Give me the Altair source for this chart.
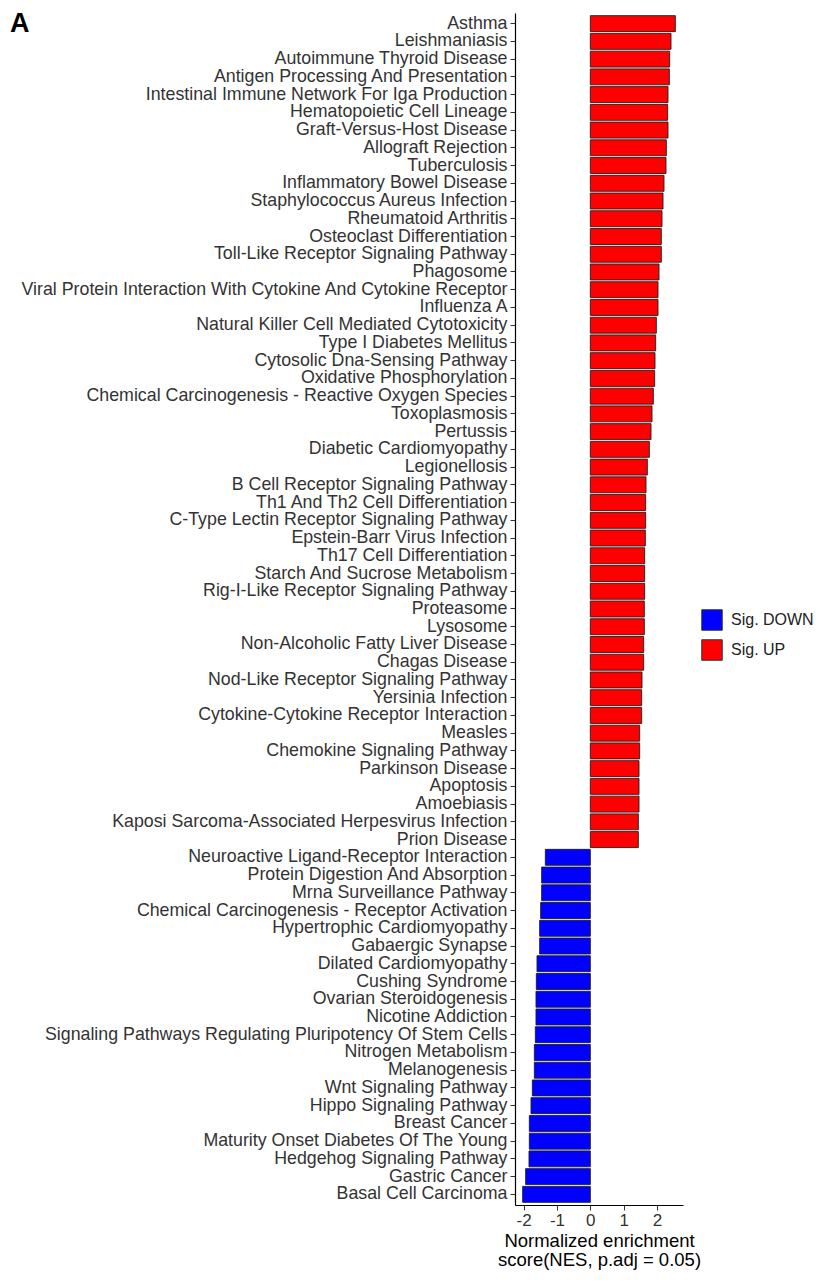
import altair as alt
import pandas as pd

up_terms = [
    "Asthma", "Leishmaniasis", "Autoimmune Thyroid Disease", "Antigen Processing And Presentation",
    "Intestinal Immune Network For Iga Production", "Hematopoietic Cell Lineage", "Graft-Versus-Host Disease",
    "Allograft Rejection", "Tuberculosis", "Inflammatory Bowel Disease", "Staphylococcus Aureus Infection",
    "Rheumatoid Arthritis", "Osteoclast Differentiation", "Toll-Like Receptor Signaling Pathway", "Phagosome",
    "Viral Protein Interaction With Cytokine And Cytokine Receptor", "Influenza A",
    "Natural Killer Cell Mediated Cytotoxicity", "Type I Diabetes Mellitus", "Cytosolic Dna-Sensing Pathway",
    "Oxidative Phosphorylation", "Chemical Carcinogenesis - Reactive Oxygen Species", "Toxoplasmosis",
    "Pertussis", "Diabetic Cardiomyopathy", "Legionellosis", "B Cell Receptor Signaling Pathway",
    "Th1 And Th2 Cell Differentiation", "C-Type Lectin Receptor Signaling Pathway", "Epstein-Barr Virus Infection",
    "Th17 Cell Differentiation", "Starch And Sucrose Metabolism", "Rig-I-Like Receptor Signaling Pathway",
    "Proteasome", "Lysosome", "Non-Alcoholic Fatty Liver Disease", "Chagas Disease",
    "Nod-Like Receptor Signaling Pathway", "Yersinia Infection", "Cytokine-Cytokine Receptor Interaction",
    "Measles", "Chemokine Signaling Pathway", "Parkinson Disease", "Apoptosis", "Amoebiasis",
    "Kaposi Sarcoma-Associated Herpesvirus Infection", "Prion Disease",
]
up_nes = [
    2.55, 2.42, 2.38, 2.37, 2.33, 2.32, 2.33, 2.28, 2.27, 2.21,
    2.18, 2.15, 2.13, 2.13, 2.06, 2.03, 2.03, 1.98, 1.96, 1.94,
    1.93, 1.89, 1.85, 1.82, 1.77, 1.71, 1.67, 1.66, 1.66, 1.65,
    1.63, 1.63, 1.63, 1.62, 1.62, 1.60, 1.60, 1.55, 1.54, 1.54,
    1.48, 1.48, 1.46, 1.46, 1.46, 1.44, 1.44,
]
down_terms = [
    "Neuroactive Ligand-Receptor Interaction", "Protein Digestion And Absorption", "Mrna Surveillance Pathway",
    "Chemical Carcinogenesis - Receptor Activation", "Hypertrophic Cardiomyopathy", "Gabaergic Synapse",
    "Dilated Cardiomyopathy", "Cushing Syndrome", "Ovarian Steroidogenesis", "Nicotine Addiction",
    "Signaling Pathways Regulating Pluripotency Of Stem Cells", "Nitrogen Metabolism", "Melanogenesis",
    "Wnt Signaling Pathway", "Hippo Signaling Pathway", "Breast Cancer", "Maturity Onset Diabetes Of The Young",
    "Hedgehog Signaling Pathway", "Gastric Cancer", "Basal Cell Carcinoma",
]
down_nes = [
    -1.35, -1.46, -1.46, -1.49, -1.52, -1.52, -1.60, -1.62, -1.63, -1.63,
    -1.65, -1.68, -1.68, -1.74, -1.78, -1.83, -1.83, -1.84, -1.94, -2.03,
]
groups = ["Sig. DOWN", "Sig. UP"]
group_colors = ["#0000FF", "#FF0000"]
x_ticks = [-2, -1, 0, 1, 2]

terms = up_terms + down_terms
df = pd.DataFrame({
    "term": terms,
    "nes": up_nes + down_nes,
    "group": ["Sig. UP"] * len(up_terms) + ["Sig. DOWN"] * len(down_terms),
})

FONT = "Liberation Sans"

bars = alt.Chart(df).mark_bar(stroke="#1e1e1e", strokeWidth=0.9).encode(
    y=alt.Y("term:N", sort=terms,
            scale=alt.Scale(paddingInner=0.1, paddingOuter=0.15),
            axis=alt.Axis(title=None, labelFontSize=17.8, labelColor="#333333", labelFont=FONT,
                          labelLimit=700, labelPadding=3, tickSize=5, tickColor="#333333",
                          domainColor="#000000", domainWidth=1.2, grid=False)),
    x=alt.X("nes:Q",
            scale=alt.Scale(domain=[-2.26, 2.78], nice=False, zero=False),
            axis=alt.Axis(values=x_ticks, title=["Normalized enrichment", "score(NES, p.adj = 0.05)"],
                          labelExpr="datum.value < 0 ? '-' + abs(datum.value) : '' + datum.value",
                          titleFontSize=18.5, titleFontWeight="normal", titleColor="#000000", titleFont=FONT,
                          titleLineHeight=19.5, titlePadding=3,
                          labelFontSize=17, labelColor="#333333", labelFont=FONT, tickSize=5,
                          tickColor="#333333", domainColor="#000000", domainWidth=1.2, grid=False,
                          labelFlush=False, labelPadding=2)),
    color=alt.Color("group:N", scale=alt.Scale(domain=groups, range=group_colors),
                    legend=alt.Legend(title=None, orient="none", legendX=186, legendY=596,
                                      symbolType="square", symbolSize=420, symbolStrokeColor="#333333",
                                      symbolStrokeWidth=1, labelFontSize=16, labelFont=FONT,
                                      labelColor="#222222", rowPadding=4, labelOffset=8)),
)

panel = alt.Chart(pd.DataFrame({"t": ["A"]})).mark_text(
    fontSize=27, fontWeight="bold", font=FONT, align="left", baseline="middle", color="#000000"
).encode(text="t:N", x=alt.value(-505), y=alt.value(11))

chart = alt.layer(bars, panel).properties(
    width=168, height=1192,
    autosize=alt.AutoSizeParams(type="none"),
    padding={"left": 507, "top": 5, "right": 139, "bottom": 68},
    view=alt.ViewBackground(strokeOpacity=0, strokeWidth=0),
).configure_view(strokeOpacity=0, strokeWidth=0).configure(background="white")

chart.save("out.html", embed_options={"renderer": "svg", "actions": False})
